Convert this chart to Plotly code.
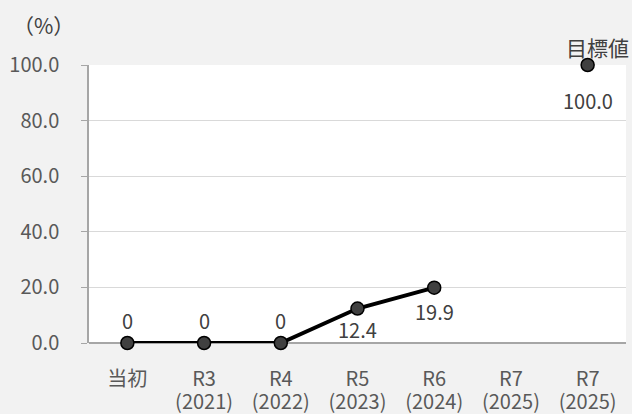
import plotly.graph_objects as go

categories = ["当初", "R3<br>(2021)", "R4<br>(2022)", "R5<br>(2023)", "R6<br>(2024)", "R7<br>(2025)", "R7<br>(2025)"]
actual_values = [0, 0, 0, 12.4, 19.9]
actual_labels = ["0", "0", "0", "12.4", "19.9"]
target_value = 100.0
target_label = "100.0"
target_name = "目標値"
y_ticks = [0, 20, 40, 60, 80, 100]

x_idx = list(range(len(categories)))
font_family = "Noto Sans CJK JP"
txt_color = "#595959"
FS = 20


def big(s):
    return "<br>".join(f"<span style='font-size:{FS}px'>{p}</span>" for p in s.split("<br>"))


fig = go.Figure()
fig.add_trace(go.Scatter(
    x=x_idx[:len(actual_values)], y=actual_values, mode="lines+markers",
    line=dict(color="#000000", width=4),
    marker=dict(size=13, color="#404040", line=dict(color="#000000", width=1.5)),
    showlegend=False, hoverinfo="skip", cliponaxis=False))
fig.add_trace(go.Scatter(
    x=[x_idx[-1]], y=[target_value], mode="markers",
    marker=dict(size=13, color="#404040", line=dict(color="#000000", width=1.5)),
    showlegend=False, hoverinfo="skip", cliponaxis=False))

shifts = [23, 23, 23, -21, -24]
for xi, v, lab, s in zip(x_idx, actual_values, actual_labels, shifts):
    fig.add_annotation(x=xi, y=v, text=lab, showarrow=False, yshift=s,
                       font=dict(size=FS, color="#404040", family=font_family))
fig.add_annotation(x=x_idx[-1], y=target_value, text=target_label, showarrow=False, yshift=-35,
                   font=dict(size=FS, color="#404040", family=font_family))
fig.add_annotation(x=x_idx[-1], y=target_value, text=target_name, showarrow=False, yshift=18, xshift=10,
                   font=dict(size=FS + 1, color="#404040", family=font_family))
fig.add_annotation(xref="paper", yref="paper", x=0, xshift=-46, y=1.0, yshift=40, text="（%）",
                   xanchor="center", yanchor="middle",
                   showarrow=False, font=dict(size=FS + 1, color="#404040", family=font_family))

fig.update_layout(
    width=632, height=414,
    margin=dict(l=89, r=6, t=65, b=71),
    paper_bgcolor="#f2f2f2", plot_bgcolor="#ffffff",
    font=dict(family=font_family, size=FS, color=txt_color),
)
fig.update_xaxes(
    range=[-0.5, 6.5], tickvals=x_idx, ticktext=[big(c) for c in categories],
    showgrid=False, showline=False, ticks="", zeroline=False,
    ticklabelstandoff=24, automargin=False,
    tickfont=dict(size=18, color=txt_color))
fig.update_yaxes(
    range=[0, 100], tickvals=y_ticks, ticktext=[f"{t:.1f}" for t in y_ticks],
    showgrid=True, gridcolor="#d9d9d9", gridwidth=1,
    showline=True, linecolor="#a6a6a6", linewidth=1.5,
    ticks="outside", ticklen=6, tickcolor="#a6a6a6",
    zeroline=True, zerolinecolor="#a6a6a6", zerolinewidth=1.5,
    ticklabelstandoff=18, automargin=False,
    tickfont=dict(size=FS, color=txt_color))

fig.write_html("out.html", config={"displayModeBar": False},
               post_script="document.body.style.margin='0';document.body.style.overflow='hidden';")
